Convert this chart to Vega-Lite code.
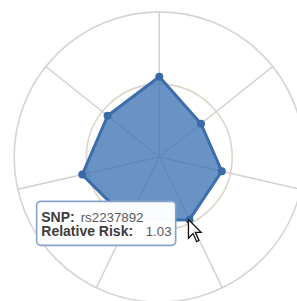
{
  "$schema": "https://vega.github.io/schema/vega-lite/v6.json",
  "width": 297,
  "height": 301,
  "autosize": "none",
  "padding": 0,
  "background": "white",
  "config": {"view": {"stroke": null}},
  "datasets": {
    "snps": [
      {"i": 0, "snp": "rs7903146", "rr": 1.19},
      {"i": 1, "snp": "rs1801282", "rr": 0.79},
      {"i": 2, "snp": "rs5219", "rr": 0.95},
      {"i": 3, "snp": "rs2237892", "rr": 1.03},
      {"i": 4, "snp": "rs13266634", "rr": 1.05},
      {"i": 5, "snp": "rs10811661", "rr": 1.17},
      {"i": 6, "snp": "rs4402960", "rr": 0.98}
    ],
    "rings": [{"ring": 1.08}, {"ring": 2.15}]
  },
  "layer": [
    {
      "data": {"name": "rings"},
      "mark": {"type": "point", "shape": "circle", "filled": false, "fill": null, "strokeWidth": 1.6, "opacity": 1},
      "encoding": {
        "x": {"datum": 0, "type": "quantitative", "scale": {"domain": [-2.36, 2.04], "nice": false, "zero": false}, "axis": null},
        "y": {"datum": 0, "type": "quantitative", "scale": {"domain": [-2.133, 2.326], "nice": false, "zero": false}, "axis": null},
        "size": {"field": "ring", "type": "quantitative", "scale": {"type": "pow", "exponent": 2, "domain": [0, 1], "range": [0, 18225], "zero": true}, "legend": null},
        "stroke": {"field": "ring", "type": "nominal", "scale": {"range": ["#ddd5c7", "#d3d5d8"]}, "legend": null}
      }
    },
    {
      "data": {"name": "snps"},
      "transform": [
        {"calculate": "datum.i * 2 * PI / 7", "as": "angle"},
        {"calculate": "2.15 * sin(datum.angle)", "as": "sx"},
        {"calculate": "2.15 * cos(datum.angle)", "as": "sy"}
      ],
      "mark": {"type": "rule", "color": "#d0d0d0", "strokeWidth": 1.5},
      "encoding": {
        "x": {"field": "sx", "type": "quantitative", "scale": {"domain": [-2.36, 2.04], "nice": false, "zero": false}, "axis": null},
        "y": {"field": "sy", "type": "quantitative", "scale": {"domain": [-2.133, 2.326], "nice": false, "zero": false}, "axis": null},
        "x2": {"datum": 0},
        "y2": {"datum": 0}
      }
    },
    {
      "data": {"name": "snps"},
      "transform": [
        {"calculate": "datum.i * 2 * PI / 7", "as": "angle"},
        {"calculate": "datum.rr * sin(datum.angle)", "as": "px"},
        {"calculate": "datum.rr * cos(datum.angle)", "as": "py"}
      ],
      "mark": {"type": "line", "interpolate": "linear-closed", "fill": "#3f74b5", "fillOpacity": 0.78, "stroke": "#3d6dad", "strokeWidth": 3, "strokeJoin": "round"},
      "encoding": {
        "x": {"field": "px", "type": "quantitative", "scale": {"domain": [-2.36, 2.04], "nice": false, "zero": false}, "axis": null},
        "y": {"field": "py", "type": "quantitative", "scale": {"domain": [-2.133, 2.326], "nice": false, "zero": false}, "axis": null},
        "order": {"field": "i", "type": "quantitative"}
      }
    },
    {
      "data": {"name": "snps"},
      "transform": [
        {"calculate": "datum.i * 2 * PI / 7", "as": "angle"},
        {"calculate": "datum.rr * sin(datum.angle)", "as": "px"},
        {"calculate": "datum.rr * cos(datum.angle)", "as": "py"}
      ],
      "mark": {"type": "point", "filled": true, "size": 64, "color": "#3a69a8", "opacity": 1},
      "encoding": {
        "x": {"field": "px", "type": "quantitative", "scale": {"domain": [-2.36, 2.04], "nice": false, "zero": false}, "axis": null},
        "y": {"field": "py", "type": "quantitative", "scale": {"domain": [-2.133, 2.326], "nice": false, "zero": false}, "axis": null}
      }
    },
    {
      "data": {"name": "snps"},
      "transform": [
        {"filter": "datum.snp === 'rs2237892'"},
        {"calculate": "datum.i * 2 * PI / 7", "as": "angle"},
        {"calculate": "datum.rr * sin(datum.angle)", "as": "px"},
        {"calculate": "datum.rr * cos(datum.angle)", "as": "py"}
      ],
      "encoding": {
        "x": {"field": "px", "type": "quantitative", "scale": {"domain": [-2.36, 2.04], "nice": false, "zero": false}, "axis": null},
        "y": {"field": "py", "type": "quantitative", "scale": {"domain": [-2.133, 2.326], "nice": false, "zero": false}, "axis": null}
      },
      "layer": [
        {
          "mark": {"type": "rect", "fill": "white", "fillOpacity": 0.97, "stroke": "#86a3cb", "strokeWidth": 1.6, "cornerRadius": 4, "xOffset": -152.8, "x2Offset": -13.8, "yOffset": -18.3, "y2Offset": 25.7},
          "encoding": {"x2": {"field": "px"}, "y2": {"field": "py"}}
        },
        {
          "mark": {"type": "text", "text": "SNP:", "align": "left", "baseline": "alphabetic", "dx": -148.2, "dy": 1.9, "font": "Liberation Sans", "fontSize": 14, "fontWeight": "bold", "color": "#3c3c3c"}
        },
        {
          "mark": {"type": "text", "text": "Relative Risk:", "align": "left", "baseline": "alphabetic", "dx": -148.2, "dy": 16.7, "font": "Liberation Sans", "fontSize": 14, "fontWeight": "bold", "color": "#3c3c3c"}
        },
        {
          "mark": {"type": "text", "align": "left", "baseline": "alphabetic", "dx": -108.8, "dy": 1.9, "font": "Liberation Sans", "fontSize": 13.3, "color": "#5a5a5a"},
          "encoding": {"text": {"field": "snp", "type": "nominal"}}
        },
        {
          "mark": {"type": "text", "align": "left", "baseline": "alphabetic", "dx": -43.8, "dy": 16.7, "font": "Liberation Sans", "fontSize": 13.3, "color": "#5a5a5a"},
          "encoding": {"text": {"field": "rr", "type": "quantitative", "format": ".2f"}}
        },
        {
          "mark": {"type": "point", "shape": "M0,0L0,1.68L0.42,1.26L0.74,2L0.95,1.89L0.63,1.15L1.15,1.15Z", "size": 484, "filled": true, "fill": "white", "stroke": "#111111", "strokeWidth": 1.3, "opacity": 1, "xOffset": -1}
        }
      ]
    }
  ]
}
